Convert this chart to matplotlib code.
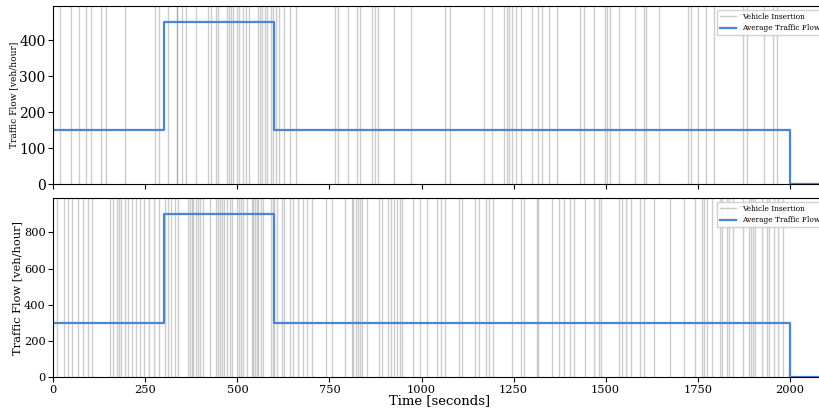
import matplotlib
matplotlib.use("Agg")
import matplotlib.pyplot as plt

plt.rcParams['font.family'] = ['DejaVu Serif']

# Step profile (time in s, flow in veh/hour)
step_t = [0, 300, 600, 2000, 2200]
top_flow = [150, 450, 150, 0, 0]
bottom_flow = [300, 900, 300, 0, 0]

top_insert = [18, 49, 71, 89, 103, 129, 142, 195, 276, 287, 312, 335, 337, 350, 360,
              387, 420, 428, 442, 446, 471, 477, 483, 489, 498, 505, 514, 523, 532,
              555, 561, 568, 574, 581, 590, 598, 606, 613, 627, 643, 658, 765, 774,
              801, 824, 833, 865, 874, 883, 925, 972, 1064, 1078, 1170, 1191, 1224,
              1231, 1238, 1247, 1257, 1270, 1299, 1317, 1326, 1347, 1367, 1430, 1440,
              1468, 1499, 1505, 1512, 1536, 1580, 1604, 1610, 1644, 1723, 1731, 1751,
              1772, 1795, 1872, 1885, 1930, 1955, 1966]

bottom_insert = [9, 29, 41, 50, 68, 80, 95, 104, 154, 161, 172, 178, 184, 195, 204,
                 213, 225, 235, 247, 261, 274, 288, 303, 312, 321, 331, 338, 367, 371,
                 376, 380, 387, 392, 398, 407, 426, 442, 448, 453, 459, 464, 471, 480,
                 484, 498, 504, 509, 516, 525, 539, 543, 548, 552, 557, 563, 570, 590,
                 596, 599, 607, 620, 627, 643, 650, 665, 679, 688, 702, 740, 756, 792,
                 810, 815, 821, 827, 833, 839, 851, 885, 894, 910, 917, 926, 933, 942,
                 946, 978, 996, 1014, 1041, 1053, 1064, 1103, 1109, 1144, 1156, 1174,
                 1182, 1195, 1245, 1270, 1277, 1313, 1317, 1354, 1373, 1387, 1403, 1414,
                 1444, 1469, 1483, 1487, 1537, 1545, 1554, 1568, 1593, 1604, 1632, 1675,
                 1714, 1743, 1761, 1767, 1775, 1788, 1811, 1815, 1829, 1835, 1847, 1872,
                 1890, 1894, 1899, 1906, 1924, 1937, 1945, 1956, 1969, 1981]

blue = '#4a84d2'

fig = plt.figure(figsize=(8.2, 4.09), dpi=100)
W = 0.943
ax1 = fig.add_axes([0.065, 0.550, W, 0.435])
ax2 = fig.add_axes([0.065, 0.078, W, 0.438], sharex=ax1)

def draw(ax, ins, flow, ymax, tick_fs, lab_fs, leg_fs, lpad):
    for i, t in enumerate(ins):
        ax.axvline(t, color='gray', alpha=0.4, lw=1.0,
                   label='Vehicle Insertion' if i == 0 else None)
    ax.step(step_t, flow, where='post', color=blue, lw=1.6, label='Average Traffic Flow')
    ax.set_ylim(0, ymax)
    ax.set_ylabel('Traffic Flow [veh/hour]', fontsize=lab_fs, labelpad=lpad)
    ax.tick_params(labelsize=tick_fs, pad=2)
    ax.legend(loc='upper right', fontsize=leg_fs, framealpha=0.9, handlelength=2.2)

draw(ax1, top_insert, top_flow, 495, 10, 6.5, 5.3, 1)
draw(ax2, bottom_insert, bottom_flow, 990, 8.2, 8.2, 5.3, 1.5)

ax1.set_xlim(0, 2100)
ax1.set_xticks([0, 250, 500, 750, 1000, 1250, 1500, 1750, 2000])
plt.setp(ax1.get_xticklabels(), visible=False)
ax1.set_yticks([0, 100, 200, 300, 400])
ax2.set_yticks([0, 200, 400, 600, 800])
ax2.set_xlabel('Time [seconds]', fontsize=9.5, labelpad=-0.5)

fig.savefig('out.png', dpi=100)
